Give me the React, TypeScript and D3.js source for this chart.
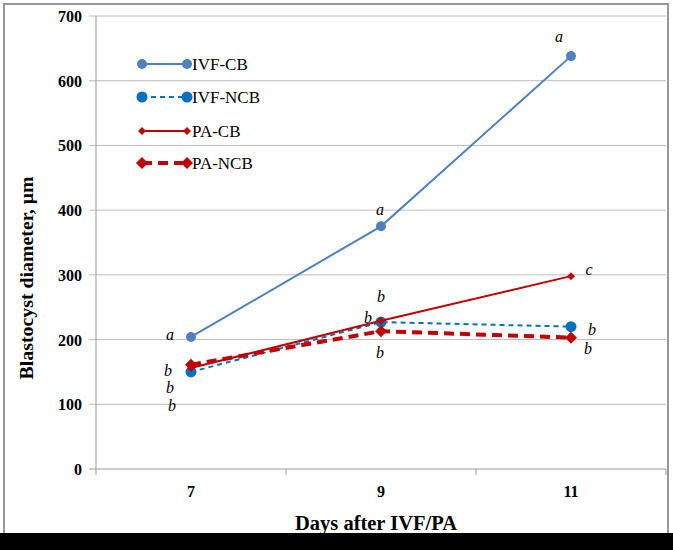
import React from "react";
import * as d3 from "d3";

const categories = ["7", "9", "11"];
const yTicks = [0, 100, 200, 300, 400, 500, 600, 700];
const seriesNames = ["IVF-CB", "IVF-NCB", "PA-CB", "PA-NCB"];
const ivfCB = [204, 375, 638];
const ivfNCB = [150, 227, 220];
const paCB = [156, 229, 298];
const paNCB = [161, 213, 203];
// significance letters: [category, value position, letter]
const letterCats = ["7", "7", "7", "7", "9", "9", "9", "9", "11", "11", "11", "11"];
const letterVals = [207, 152, 125, 98, 400, 266, 234, 180, 667, 308, 215, 186];
const letterText = ["a", "b", "b", "b", "a", "b", "b", "b", "a", "c", "b", "b"];
const letterDx = [-21, -23, -21, -19, -1, 0, -13, -1, -12, 18, 21, 17];

const W = 673, H = 550;
const L = 96, R = 666, T = 16, B = 469;

export default function App() {
  const x = d3.scaleBand().domain(categories).range([L, R]);
  const y = d3.scaleLinear().domain([0, 700]).range([B, T]);
  const cx = (c: string) => (x(c) as number) + x.bandwidth() / 2;
  const line = d3
    .line<number>()
    .x((_, i) => cx(categories[i]))
    .y((d) => y(d));

  const series = [
    { name: seriesNames[0], data: ivfCB, color: "#4F81BD", width: 2, dash: "", marker: "circle", r: 5 },
    { name: seriesNames[1], data: ivfNCB, color: "#0070C0", width: 2, dash: "5,4", marker: "circle", r: 5.5 },
    { name: seriesNames[2], data: paCB, color: "#C00000", width: 2, dash: "", marker: "diamond", r: 4 },
    { name: seriesNames[3], data: paNCB, color: "#C00000", width: 4, dash: "10,6", marker: "diamond", r: 6 },
  ];

  const marker = (s: any, px: number, py: number, k: string) =>
    s.marker === "circle" ? (
      <circle key={k} cx={px} cy={py} r={s.r} fill={s.color} />
    ) : (
      <path key={k} d={`M${px},${py - s.r}L${px + s.r},${py}L${px},${py + s.r}L${px - s.r},${py}Z`} fill={s.color} />
    );

  const serif = "'Liberation Serif', 'Times New Roman', serif";
  const legendY = [64, 97, 131, 163];

  return (
    <svg width={W} height={H} style={{ position: "absolute", left: 0, top: 0 }}>
      <rect x={0} y={0} width={W} height={H} fill="#fff" />
      <rect x={4} y={4} width={664} height={530} fill="none" stroke="#999" strokeWidth={2} />
      <rect x={0} y={533} width={W} height={17} fill="#000" />
      {yTicks.map((t) => (
        <g key={t}>
          <line x1={L - 7} x2={R} y1={y(t)} y2={y(t)} stroke={t === 0 ? "#999" : "#bcbcbc"} strokeWidth={1} />
          <text x={82} y={y(t) + 6} textAnchor="end" fontFamily={serif} fontWeight="bold" fontSize={16}>
            {t}
          </text>
        </g>
      ))}
      <line x1={L} x2={L} y1={T} y2={B} stroke="#999" />
      {[0, 1, 2, 3].map((i) => {
        const xx = L + i * x.bandwidth();
        return <line key={i} x1={xx} x2={xx} y1={B} y2={B + 6} stroke="#999" />;
      })}
      {categories.map((c) => (
        <text key={c} x={cx(c)} y={497} textAnchor="middle" fontFamily={serif} fontWeight="bold" fontSize={16}>
          {c}
        </text>
      ))}
      <text
        x={376}
        y={530}
        textAnchor="middle"
        fontFamily={serif}
        fontWeight="bold"
        fontSize={20}
        textLength={162}
        lengthAdjust="spacingAndGlyphs"
      >
        Days after IVF/PA
      </text>
      <text
        transform={`translate(33,278) rotate(-90)`}
        textAnchor="middle"
        fontFamily={serif}
        fontWeight="bold"
        fontSize={19}
        textLength={203}
        lengthAdjust="spacingAndGlyphs"
      >
        Blastocyst diameter, μm
      </text>
      {series.map((s, si) => (
        <g key={s.name}>
          <path d={line(s.data) as string} fill="none" stroke={s.color} strokeWidth={s.width} strokeDasharray={s.dash} />
          {s.data.map((v, i) => marker(s, cx(categories[i]), y(v), `${si}-${i}`))}
        </g>
      ))}
      {letterText.map((t, i) => (
        <text
          key={i}
          x={cx(letterCats[i]) + letterDx[i]}
          y={y(letterVals[i]) + 5}
          textAnchor="middle"
          fontFamily={serif}
          fontStyle="italic"
          fontSize={16}
        >
          {t}
        </text>
      ))}
      {series.map((s, i) => (
        <g key={s.name}>
          <line x1={142} x2={187} y1={legendY[i]} y2={legendY[i]} stroke={s.color} strokeWidth={s.width} strokeDasharray={s.dash} />
          {marker(s, 142, legendY[i], `l${i}a`)}
          {marker(s, 187, legendY[i], `l${i}b`)}
          <text x={192} y={legendY[i] + 6} fontFamily={serif} fontSize={17}>
            {s.name}
          </text>
        </g>
      ))}
    </svg>
  );
}
